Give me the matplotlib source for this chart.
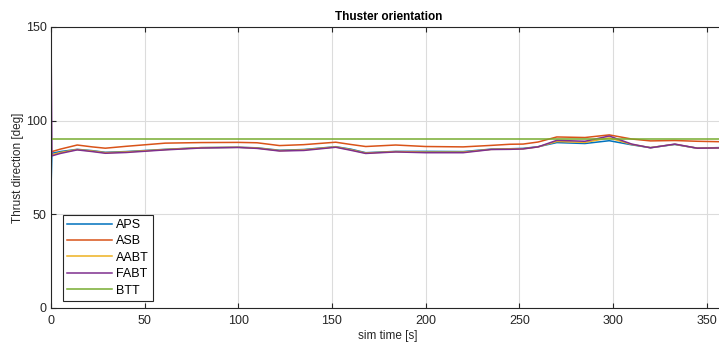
import numpy as np
import matplotlib.pyplot as plt

plt.rcParams['font.family'] = ['Liberation Sans', 'DejaVu Sans']

# sampled thruster angles [deg] vs sim time [s]
t = [0, 0.5, 5, 14, 22, 29, 40, 61, 80, 100, 110, 122, 135, 152, 160, 168, 184,
     200, 220, 235, 245, 252, 260, 270, 285, 298, 310, 320, 333, 345, 360]
aps = [63, 82.6, 83.5, 84.7, 84.0, 83.1, 83.5, 84.7, 85.6, 85.8, 85.5, 84.2, 84.6,
       86.1, 84.8, 82.9, 83.6, 83.6, 83.5, 84.8, 85.0, 85.2, 86.1, 88.3, 87.8,
       89.3, 87.1, 85.6, 87.3, 85.3, 85.7]
asb = [83.5, 83.5, 84.8, 87.0, 86.0, 85.3, 86.3, 88.0, 88.3, 88.4, 88.2, 86.7, 87.2,
       88.5, 87.3, 86.2, 87.0, 86.2, 86.0, 86.8, 87.4, 87.5, 88.6, 91.3, 91.0,
       92.4, 90.2, 89.2, 89.4, 89.0, 88.7]
aabt = [81.8, 81.8, 83.0, 84.6, 83.8, 82.9, 83.3, 84.6, 85.6, 85.8, 85.4, 84.0, 84.4,
        86.0, 84.5, 82.7, 83.5, 83.2, 83.2, 84.7, 84.9, 85.0, 86.0, 88.9, 88.4,
        90.8, 87.3, 85.6, 87.4, 85.3, 85.6]
fabt = [150, 81.2, 82.5, 84.4, 83.5, 82.6, 83.0, 84.4, 85.4, 85.7, 85.2, 83.8, 84.1,
        85.8, 84.2, 82.5, 83.3, 82.9, 82.9, 84.6, 84.7, 84.9, 86.0, 89.5, 89.0,
        91.8, 87.5, 85.5, 87.5, 85.3, 85.5]
btt = [90] * len(t)

names = ['APS', 'ASB', 'AABT', 'FABT', 'BTT']
colors = ['#0072BD', '#D95319', '#EDB120', '#7E2F8E', '#77AC30']

fig = plt.figure(figsize=(7.19, 3.47), dpi=100)
ax = fig.add_axes([0.0709, 0.1124, 0.938, 0.8098])

for y, name, c in zip([aps, asb, aabt, fabt, btt], names, colors):
    ax.plot(t, y, color=c, lw=1.1, label=name)

ax.set_xlim(0, 360)
ax.set_ylim(0, 150)
ax.set_xticks(np.arange(0, 351, 50))
ax.set_yticks([0, 50, 100, 150])
ax.grid(True, color='#dcdcdc', lw=0.8)
ax.set_axisbelow(True)
ax.tick_params(direction='in', top=True, right=True, labelsize=9,
               colors='#262626', length=3.5)
ax.tick_params(axis='x', pad=5)
ax.tick_params(axis='y', pad=3)
for s in ax.spines.values():
    s.set_color('#262626')
    s.set_linewidth(0.8)

ax.set_title('Thuster orientation', fontsize=8.5, fontweight='bold', pad=5)
ax.set_xlabel('sim time [s]', fontsize=8.5, color='#262626', labelpad=2)
ax.set_ylabel('Thrust direction [deg]', fontsize=8.5, color='#262626', labelpad=1)

leg = ax.legend(loc='lower left', bbox_to_anchor=(0.018, 0.025), borderaxespad=0,
                fontsize=9, handlelength=3.6, handletextpad=0.25, labelspacing=0.35,
                borderpad=0.35, fancybox=False, framealpha=1)
leg.get_frame().set_edgecolor('#262626')
leg.get_frame().set_linewidth(0.8)

fig.savefig('out.png', dpi=100)
